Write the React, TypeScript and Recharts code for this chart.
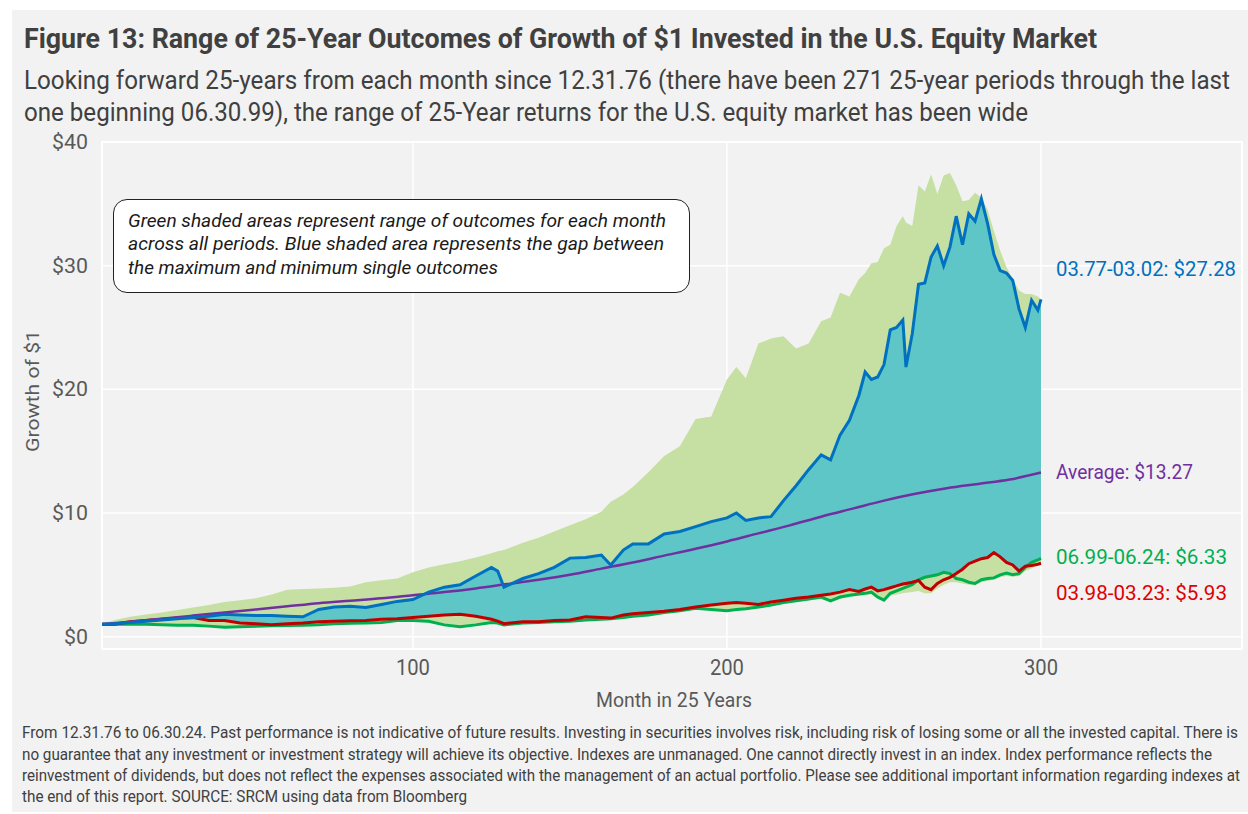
import React from 'react';
import { ComposedChart, Area, Line, XAxis, YAxis, CartesianGrid, ReferenceArea } from 'recharts';

// month within the 25-year window
const months = [
  1, 5, 10, 15, 20, 25, 30, 35, 40, 45, 50, 55, 60, 65, 70, 75, 80, 85, 90, 95, 100, 105, 110, 115, 120, 125, 127, 129,
  135, 140, 145, 150, 155, 160, 163, 167, 170, 175, 180, 185, 190, 195, 200, 203, 206, 210, 214, 218, 222, 226, 230,
  233, 236, 239, 242, 244, 246, 248, 250, 252, 254, 256, 257, 259, 261, 263, 265, 267, 269, 271, 273, 275, 277, 279,
  281, 283, 285, 287, 289, 291, 293, 295, 297, 299, 300,
];

// highest outcome for each month across all periods
const rangeMax = [
  1.0, 1.35, 1.6, 1.8, 1.95, 2.15, 2.35, 2.55, 2.8, 2.95, 3.1, 3.4, 3.8, 3.85, 3.9, 3.95, 4.05, 4.4, 4.55, 4.7, 5.2, 5.6,
  5.85, 6.1, 6.4, 6.75, 6.9, 7.0, 7.6, 8.0, 8.5, 9.0, 9.5, 10.1, 10.9, 11.5, 12.1, 13.3, 14.6, 15.4, 17.6, 17.8, 20.8,
  21.8, 20.9, 23.7, 24.1, 24.3, 23.3, 23.7, 25.5, 25.8, 27.8, 27.5, 28.9, 29.4, 30.2, 30.3, 31.4, 31.7, 33.2, 34.0, 33.5,
  33.2, 36.5, 36.0, 37.4, 35.8, 37.3, 37.5, 36.5, 35.2, 35.3, 35.9, 35.5, 34.5, 32.8, 31.2, 29.9, 28.9, 28.0, 27.7, 27.7,
  27.5, 27.28,
];

// lowest outcome for each month across all periods
const rangeMin = [
  1.0, 0.95, 0.95, 0.95, 0.9, 0.85, 0.85, 0.8, 0.7, 0.72, 0.78, 0.82, 0.85, 0.88, 0.92, 1.0, 1.02, 1.05, 1.1, 1.2, 1.2,
  1.15, 0.9, 0.75, 0.9, 1.05, 1.05, 0.9, 1.05, 1.1, 1.15, 1.2, 1.3, 1.35, 1.4, 1.5, 1.6, 1.7, 1.9, 2.05, 2.2, 2.15, 2.05,
  2.1, 2.2, 2.3, 2.45, 2.65, 2.8, 2.95, 3.05, 2.8, 3.05, 3.2, 3.3, 3.35, 3.4, 3.05, 2.85, 3.3, 3.4, 3.5, 3.55, 3.6, 3.7,
  3.5, 3.5, 3.9, 4.2, 4.4, 4.4, 4.3, 4.2, 4.15, 4.4, 4.5, 4.6, 4.8, 4.9, 4.85, 4.9, 5.3, 5.5, 5.8, 5.93,
];

// 03.77-03.02 (best single outcome)
const best7702 = [
  1.0, 1.05, 1.15, 1.25, 1.35, 1.45, 1.55, 1.65, 1.8, 1.75, 1.7, 1.7, 1.65, 1.6, 2.2, 2.4, 2.45, 2.35, 2.6, 2.85, 3.0,
  3.6, 4.0, 4.2, 4.9, 5.6, 5.3, 4.0, 4.7, 5.1, 5.6, 6.35, 6.4, 6.6, 5.8, 7.0, 7.5, 7.5, 8.3, 8.5, 8.9, 9.3, 9.6, 10.0,
  9.4, 9.6, 9.7, 11.0, 12.2, 13.5, 14.7, 14.3, 16.3, 17.5, 19.5, 21.4, 20.8, 21.0, 22.0, 24.8, 25.0, 25.6, 21.8, 24.5,
  28.5, 28.6, 30.7, 31.6, 30.0, 31.5, 34.0, 31.7, 34.2, 33.6, 35.4, 33.4, 30.9, 29.6, 29.4, 28.8, 26.5, 25.0, 27.2,
  26.4, 27.28,
];

// 06.99-06.24 (lowest single outcome)
const latest9924 = [
  1.0, 1.0, 1.0, 1.0, 0.97, 0.92, 0.93, 0.85, 0.75, 0.8, 0.83, 0.88, 0.9, 0.92, 0.97, 1.05, 1.08, 1.1, 1.15, 1.3, 1.3,
  1.24, 0.95, 0.8, 0.95, 1.15, 1.1, 0.95, 1.1, 1.15, 1.2, 1.25, 1.35, 1.4, 1.45, 1.55, 1.65, 1.75, 1.95, 2.1, 2.3, 2.2,
  2.1, 2.2, 2.25, 2.4, 2.55, 2.75, 2.9, 3.05, 3.2, 2.9, 3.2, 3.35, 3.45, 3.5, 3.6, 3.2, 2.95, 3.5, 3.7, 3.9, 4.0, 4.2,
  4.6, 4.8, 4.9, 5.0, 5.2, 5.1, 4.7, 4.6, 4.4, 4.3, 4.6, 4.7, 4.75, 5.0, 5.15, 5.0, 5.1, 5.6, 6.0, 6.2, 6.33,
];

// 03.98-03.23
const period9823 = [
  1.0, 1.0, 1.2, 1.3, 1.4, 1.5, 1.55, 1.3, 1.3, 1.1, 1.05, 0.97, 1.05, 1.1, 1.2, 1.25, 1.28, 1.3, 1.4, 1.45, 1.55, 1.65,
  1.75, 1.8, 1.65, 1.4, 1.25, 1.05, 1.2, 1.2, 1.3, 1.35, 1.6, 1.55, 1.5, 1.75, 1.85, 1.95, 2.05, 2.2, 2.4, 2.55, 2.7,
  2.75, 2.7, 2.6, 2.8, 2.95, 3.1, 3.2, 3.35, 3.45, 3.6, 3.8, 3.65, 3.85, 4.0, 3.7, 3.8, 3.95, 4.1, 4.25, 4.3, 4.4, 4.55,
  4.0, 3.8, 4.3, 4.6, 4.8, 5.1, 5.45, 5.9, 6.1, 6.3, 6.4, 6.8, 6.45, 6.0, 5.8, 5.3, 5.7, 5.75, 5.85, 5.93,
];

// average outcome
const avgMonths = [1, 10, 20, 30, 40, 50, 60, 70, 80, 90, 100, 110, 120, 130, 140, 150, 160, 170, 180, 190, 200, 210, 220, 230, 240, 250, 260, 270, 280, 290, 300];
const avgValues = [1.0, 1.2, 1.45, 1.7, 1.95, 2.2, 2.45, 2.7, 2.9, 3.1, 3.35, 3.6, 3.9, 4.25, 4.6, 5.0, 5.5, 6.0, 6.55, 7.1, 7.7, 8.35, 9.0, 9.7, 10.35, 11.0, 11.55, 12.0, 12.35, 12.7, 13.27];

const xTicks = [100, 200, 300];
const yTicks = [0, 10, 20, 30, 40];

const tableData = months.map((m, i) => ({
  month: m,
  range: [rangeMin[i], rangeMax[i]],
  gap: [Math.max(latest9924[i], period9823[i]), best7702[i]],
  best: best7702[i],
  latest: latest9924[i],
  p9823: period9823[i],
}));
const avgData = avgMonths.map((m, i) => ({ month: m, avg: avgValues[i] }));

const FONT = 'Roboto, "Noto Sans", sans-serif';
const TEXT = '#404040';
const AXIS_TEXT = '#595959';

// condensed-looking text: set in a smaller size, stretched tall, then fitted to the measured width
const T = ({ x, y, w, size, color = TEXT, weight = 400, italic = false, anchor = 'start', children }: any) => {
  const fs = size * 0.8;
  return (
    <g transform={`translate(${x},${y}) scale(1,${size / fs})`}>
      <text
        x={0}
        y={0}
        fontSize={fs}
        fontWeight={weight}
        fontStyle={italic ? 'italic' : 'normal'}
        fill={color}
        textAnchor={anchor}
        textLength={w}
        lengthAdjust="spacingAndGlyphs"
        fontFamily={FONT}
      >
        {children}
      </text>
    </g>
  );
};

const YTick = ({ x, y, payload }: any) => (
  <T x={x} y={y + 7} w={`$${payload.value}`.length * 12} size={20} color={AXIS_TEXT} anchor="end">
    {`$${payload.value}`}
  </T>
);

const XTick = ({ x, y, payload }: any) => (
  <T x={x} y={y + 16} w={34} size={22} color={AXIS_TEXT} anchor="middle">
    {payload.value}
  </T>
);

export default function App() {
  return (
    <div style={{ position: 'absolute', left: 0, top: 0, width: 1248, height: 814, background: '#fff' }}>
      <div style={{ position: 'absolute', left: 12, top: 10, width: 1236, height: 802, background: '#F2F2F2' }} />

      <div style={{ position: 'absolute', left: 0, top: 0 }}>
        <ComposedChart width={1248} height={720} data={tableData} margin={{ top: 142, right: 6, left: 42, bottom: 41 }}>
          <CartesianGrid stroke="#FFFFFF" strokeWidth={1.5} />
          <ReferenceArea x1={1} x2={364} y1={-1} y2={40} fill="none" stroke="#FFFFFF" strokeWidth={1.5} ifOverflow="visible" />
          <XAxis
            dataKey="month"
            type="number"
            domain={[1, 364]}
            ticks={xTicks}
            axisLine={false}
            tickLine={false}
            tickMargin={4}
            height={30}
            tick={<XTick />}
            allowDataOverflow
          />
          <YAxis
            type="number"
            domain={[-1, 40]}
            ticks={yTicks}
            axisLine={false}
            tickLine={false}
            width={60}
            tickMargin={8}
            tick={<YTick />}
            allowDataOverflow
          />
          <Area type="linear" dataKey="range" stroke="none" fill="#C5E0A2" fillOpacity={1} isAnimationActive={false} />
          <Area type="linear" dataKey="gap" stroke="none" fill="#5EC6C6" fillOpacity={1} isAnimationActive={false} />
          <Line type="linear" dataKey="latest" stroke="#00B050" strokeWidth={3} dot={false} isAnimationActive={false} />
          <Line type="linear" dataKey="p9823" stroke="#C00000" strokeWidth={3} dot={false} isAnimationActive={false} />
          <Line type="monotone" data={avgData} dataKey="avg" stroke="#7030A0" strokeWidth={2.5} dot={false} isAnimationActive={false} />
          <Line type="linear" dataKey="best" stroke="#0070C0" strokeWidth={3} dot={false} isAnimationActive={false} />
        </ComposedChart>
      </div>

      <div
        style={{
          position: 'absolute',
          left: 113,
          top: 199,
          width: 577,
          height: 94,
          background: '#fff',
          border: '1.5px solid #222',
          borderRadius: 14,
          boxSizing: 'border-box',
        }}
      />

      <svg width={1248} height={814} style={{ position: 'absolute', left: 0, top: 0, pointerEvents: 'none' }}>
        <T x={24} y={48} w={1073} size={28} weight={700}>
          Figure 13: Range of 25-Year Outcomes of Growth of $1 Invested in the U.S. Equity Market
        </T>
        <T x={24} y={89} w={1206} size={25}>
          Looking forward 25-years from each month since 12.31.76 (there have been 271 25-year periods through the last
        </T>
        <T x={24} y={121} w={1004} size={25}>
          one beginning 06.30.99), the range of 25-Year returns for the U.S. equity market has been wide
        </T>

        <T x={128} y={227} w={538} size={19} italic color="#1a1a1a">
          Green shaded areas represent range of outcomes for each month
        </T>
        <T x={128} y={250} w={536} size={19} italic color="#1a1a1a">
          across all periods. Blue shaded area represents the gap between
        </T>
        <T x={128} y={274} w={370} size={19} italic color="#1a1a1a">
          the maximum and minimum single outcomes
        </T>

        <T x={1056} y={276} w={180} size={21} color="#0070C0">03.77-03.02: $27.28</T>
        <T x={1056} y={479} w={137} size={21} color="#7030A0">Average: $13.27</T>
        <T x={1056} y={564} w={171} size={21} color="#00B050">06.99-06.24: $6.33</T>
        <T x={1056} y={600} w={171} size={21} color="#E00000">03.98-03.23: $5.93</T>

        <T x={674} y={707} w={156} size={21} color={AXIS_TEXT} anchor="middle">Month in 25 Years</T>
        <g transform="translate(39, 391) rotate(-90)">
          <T x={0} y={0} w={122} size={19} color={AXIS_TEXT} anchor="middle">Growth of $1</T>
        </g>

        <T x={22} y={738} w={1216} size={16}>
          From 12.31.76 to 06.30.24. Past performance is not indicative of future results. Investing in securities involves risk, including risk of losing some or all the invested capital. There is
        </T>
        <T x={22} y={760} w={1190} size={16}>
          no guarantee that any investment or investment strategy will achieve its objective. Indexes are unmanaged. One cannot directly invest in an index. Index performance reflects the
        </T>
        <T x={22} y={781} w={1218} size={16}>
          reinvestment of dividends, but does not reflect the expenses associated with the management of an actual portfolio. Please see additional important information regarding indexes at
        </T>
        <T x={22} y={802} w={445} size={16}>
          the end of this report. SOURCE: SRCM using data from Bloomberg
        </T>
      </svg>
    </div>
  );
}
